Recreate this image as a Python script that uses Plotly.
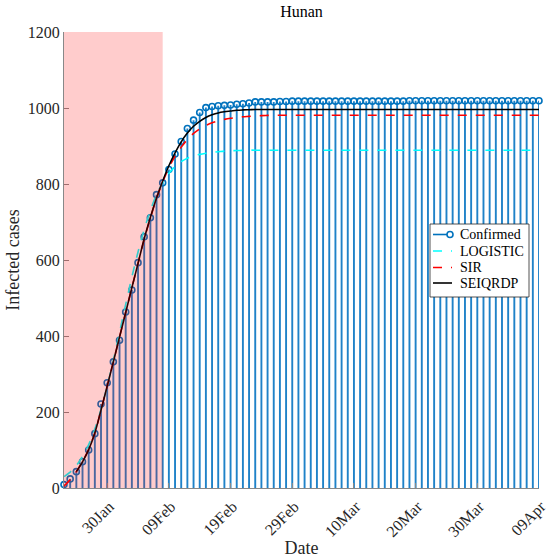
import pandas as pd
import plotly.graph_objects as go

start_date = "2020-01-23"
confirmed = [9, 24, 43, 69, 100, 143, 221, 277, 332, 389, 463, 521, 593, 661, 711, 772, 803,
             838, 879, 912, 946, 968, 988, 1001, 1004, 1006, 1007, 1008, 1010, 1011, 1013,
             1016, 1016, 1016, 1016, 1017, 1017, 1018, 1018, 1018, 1018, 1018, 1018, 1018,
             1018, 1018, 1018, 1018, 1018, 1018, 1018, 1018, 1018, 1018, 1018, 1018, 1019,
             1019, 1019, 1019, 1019, 1019, 1019, 1019, 1019, 1019, 1019, 1019, 1019, 1019,
             1019, 1019, 1019, 1019, 1019, 1019, 1019, 1019]

logistic = [30, 42, 59, 83, 114, 155, 207, 268, 336, 409, 483, 555, 621, 680, 730, 772, 803,
            828, 846, 859, 868, 874, 878, 881, 883.5, 885, 886.5, 887.5, 888, 888.5] + [889] * 48

sir = [5, 22, 43, 70, 102, 145, 205, 268, 332, 397, 462, 527, 591, 654, 710, 762, 805,
       843, 873, 897, 917, 933, 945, 954, 961, 966, 970, 973, 975, 977, 978, 979, 980,
       980.5] + [981] * 44

seiqrdp = [None, None, 43, 69, 101, 145, 205, 268, 332, 397, 462, 527, 591, 656, 712, 763, 808,
           848, 882, 911, 934, 952, 965, 975, 982, 987, 990, 992, 994, 995, 995.5] + [996] * 47

fit_end = "2020-02-08"
tick_dates = ["2020-01-30", "2020-02-09", "2020-02-19", "2020-02-29", "2020-03-10",
              "2020-03-20", "2020-03-30", "2020-04-09"]
tick_text = ["30Jan", "09Feb", "19Feb", "29Feb", "10Mar", "20Mar", "30Mar", "09Apr"]
y_ticks = [0, 200, 400, 600, 800, 1000, 1200]
legend_names = ["Confirmed", "LOGISTIC", "SIR", "SEIQRDP"]

dates = pd.date_range(start_date, periods=len(confirmed))
blue = "#0072BD"
stem_blue = "#1F82C8"
series_styles = [
    dict(color=blue, dash="solid", marker=True),
    dict(color="#00FFFF", dash="dash", marker=False),
    dict(color="#FF0000", dash="dash", marker=False),
    dict(color="#000000", dash="solid", marker=False),
]

stem_x, stem_y = [], []
for d, v in zip(dates, confirmed):
    stem_x += [d, d, None]
    stem_y += [0, v, None]

fig = go.Figure()
fig.add_trace(go.Scatter(x=stem_x, y=stem_y, mode="lines", line=dict(color=stem_blue, width=1.9),
                         showlegend=False, hoverinfo="skip"))
fig.add_trace(go.Scatter(x=dates, y=confirmed, mode="markers", cliponaxis=False, name="Confirmed",
                         marker=dict(symbol="circle-open", size=6, color=blue, line=dict(width=1.6)),
                         showlegend=False))
for name, vals, st in zip(legend_names[1:], [logistic, sir, seiqrdp], series_styles[1:]):
    fig.add_trace(go.Scatter(x=dates, y=vals, mode="lines", name=name, line_shape="spline",
                             line=dict(color=st["color"], width=1.6, dash=st["dash"]),
                             showlegend=False))

fig.add_shape(type="rect", xref="x", yref="y", x0=dates[0], x1=fit_end, y0=0, y1=1200,
              fillcolor="rgba(255,0,0,0.2)", line=dict(width=0), layer="above")

# plot-area geometry (pixels) used to place the legend box
W, H = 546, 558
ML, MR, MT, MB = 64, 7, 32, 70
PW, PH = W - ML - MR, H - MT - MB


def px(xp):
    return (xp - ML) / PW


def py(yp):
    return (H - MB - yp) / PH


# legend box
fig.add_shape(type="rect", xref="paper", yref="paper", x0=px(430), x1=px(529), y0=py(297), y1=py(224),
              fillcolor="white", line=dict(color="#262626", width=0.8), layer="above")
row_y = [234.5, 251, 267.5, 283]
for name, st, ry in zip(legend_names, series_styles, row_y):
    fig.add_shape(type="line", xref="paper", yref="paper", x0=px(433), x1=px(452),
                  y0=py(ry), y1=py(ry), layer="above",
                  line=dict(color=st["color"], width=1.6, dash="dash" if st["dash"] == "dash" else "solid"))
    if st["marker"]:
        fig.add_shape(type="circle", xref="paper", yref="paper", xsizemode="pixel", ysizemode="pixel",
                      xanchor=px(450), yanchor=py(ry), x0=-3, x1=3, y0=-3, y1=3, layer="above",
                      fillcolor="white", line=dict(color=st["color"], width=1.6))
    fig.add_annotation(x=px(458), y=py(ry), xref="paper", yref="paper", text=name, showarrow=False,
                       xanchor="left", yanchor="middle", font=dict(family="Liberation Serif", size=14, color="#000"))

font = "Liberation Serif"
fig.update_layout(
    width=W, height=H,
    margin=dict(l=ML, r=MR, t=MT, b=MB, autoexpand=False),
    paper_bgcolor="white", plot_bgcolor="white",
    font=dict(family=font, size=16, color="#262626"),
    title=dict(text="Hunan", x=(ML + PW / 2) / W, xanchor="center", y=1 - 11 / H,
               yanchor="middle", font=dict(family=font, size=16, color="#000")),
    showlegend=False,
    xaxis=dict(range=[dates[0], dates[-1]], tickvals=tick_dates, ticktext=tick_text,
               tickangle=-45, showgrid=False, zeroline=False, showline=True, automargin=False,
               linecolor="#888", linewidth=1, ticks="inside", ticklen=5, tickcolor="#888",
               ticklabelshift=2, ticklabelstandoff=2, ticklabeloverflow="allow",
               tickfont=dict(family=font, size=16),
               title=dict(text="Date", font=dict(family=font, size=18), standoff=2)),
    yaxis=dict(range=[0, 1200], tickvals=y_ticks, showgrid=False, zeroline=False, automargin=False,
               showline=True, linecolor="#888", linewidth=1, ticks="inside", ticklen=5,
               tickcolor="#888", tickfont=dict(family=font, size=16),
               title=dict(text="Infected cases", font=dict(family=font, size=18), standoff=3)),
)

fig.write_html("out.html")
